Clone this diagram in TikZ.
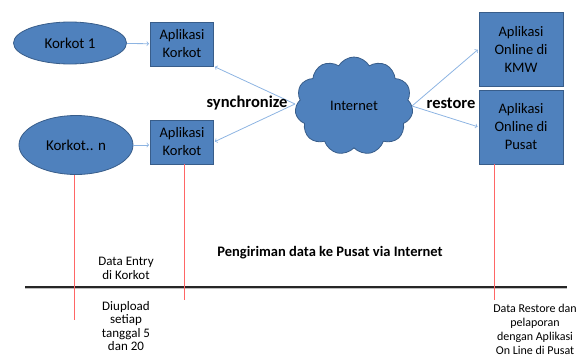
\documentclass[tikz,border=0pt]{standalone}
\usepackage{fontspec}
\setmainfont{Carlito}
\usetikzlibrary{shapes.symbols, shapes.geometric}

\definecolor{boxfill}{HTML}{4F81BD}
\definecolor{boxline}{HTML}{385D8A}
\definecolor{arrowblue}{HTML}{8DB4E2}
\definecolor{redline}{HTML}{FF6666}

\tikzset{
  korkot/.style={ellipse, draw=boxline, fill=boxfill, line width=0.8pt, font=\fontsize{15}{17}\selectfont},
  appbox/.style={rectangle, draw=boxline, fill=boxfill, line width=0.8pt, align=center, font=\fontsize{14.5}{18}\selectfont},
  flow/.style={->, arrowblue, line width=0.8pt, shorten >=1pt},
  note/.style={align=center, font=\fontsize{13}{13.5}\selectfont},
  bold label/.style={font=\bfseries\fontsize{16.5}{18}\selectfont}
}

\begin{document}
\begin{tikzpicture}[x=1pt,y=-1pt]
	\useasboundingbox (0,0) rectangle (584,356);
	% offices and their applications
	\node[korkot, minimum width=113pt, minimum height=42pt] (k1) at (70,43) {Korkot 1};
	\node[korkot, minimum width=114pt, minimum height=59pt] (kn) at (76,145) {Korkot.. n};
	\node[appbox, minimum width=63pt, minimum height=44pt] (a1) at (182,44) {Aplikasi\\Korkot};
	\node[appbox, minimum width=63pt, minimum height=44pt] (an) at (182,142) {Aplikasi\\Korkot};
	\node[cloud, cloud puffs=11, cloud puff arc=120, aspect=1.15, draw=boxline, fill=boxfill,
	      line width=0.8pt, minimum width=118pt, minimum height=98pt,
	      font=\fontsize{14.5}{16}\selectfont] (net) at (354,106) {Internet};
	\node[appbox, minimum width=84pt, minimum height=74pt] (kmw) at (521,49) {Aplikasi\\Online di\\KMW};
	\node[appbox, minimum width=84pt, minimum height=74pt] (pst) at (521,127) {Aplikasi\\Online di\\Pusat};
	\coordinate (netw) at (295,104);
	\coordinate (nete) at (412,106);

	\draw[flow] (k1) -- (a1);
	\draw[flow] (kn.east) -- (an.west |- kn.east);
	\draw[flow] (netw) -- (a1.south east);
	\draw[flow] (netw) -- (an.east);
	\draw[flow] (nete) -- (kmw.west);
	\draw[flow] (nete) -- (pst.west);
	\node[bold label] (sync) at (247,103) {synchronize};
	\node[bold label] (rst) at (451,103) {restore};

	% time line
	\coordinate (tl0) at (25,287);
	\coordinate (tl1) at (567,287);
	\draw[gray!50, line width=1.5pt] ([yshift=-1.5pt]tl0) -- ([yshift=-1.5pt]tl1);
	\draw[black!85, line width=1.3pt] (tl0) -- (tl1);
	\coordinate (r1) at (74,320);
	\coordinate (r2) at (184,300);
	\coordinate (r3) at (494,300);
	\draw[redline, line width=1pt] (kn.south -| r1) -- (r1);
	\draw[redline, line width=1pt] (an.south -| r2) -- (r2);
	\draw[redline, line width=1pt] (pst.south -| r3) -- (r3);

	\node[note, font=\fontsize{13}{14}\selectfont] (entry) at (126,268) {Data Entry\\di Korkot};
	\node[note] (upl) at (126,326) {Diupload\\setiap\\tanggal 5\\dan 20};
	\node[font=\bfseries\fontsize{14.5}{16}\selectfont] (send) at (330,253) {Pengiriman data ke Pusat via Internet};
	\node[note, font=\fontsize{12}{14}\selectfont] (rest) at (535,329) {Data Restore dan\\pelaporan\\dengan Aplikasi\\On Line di Pusat};
\end{tikzpicture}
\end{document}
